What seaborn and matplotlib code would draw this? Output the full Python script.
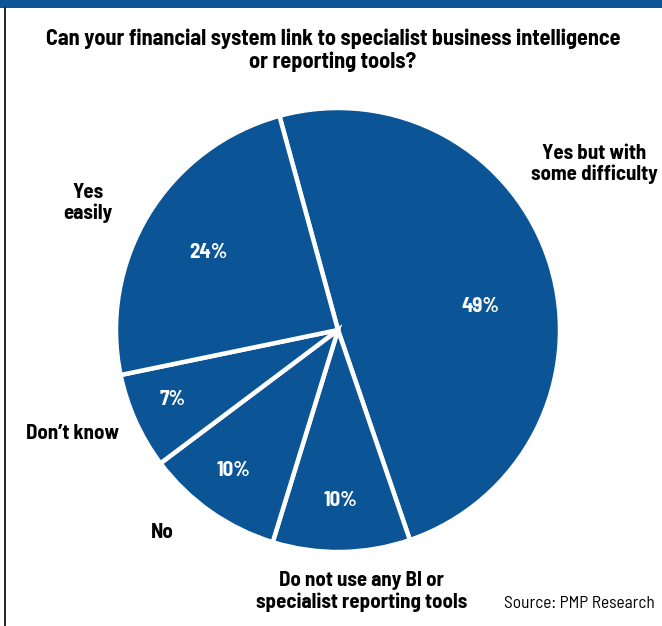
import matplotlib
matplotlib.use("Agg")
import matplotlib.pyplot as plt
from matplotlib.patches import Rectangle
from matplotlib.lines import Line2D
import seaborn as sns

# Survey answers, clockwise from the top
answers = ["Yes but with\nsome difficulty", "Do not use any BI or\nspecialist reporting tools",
           "No", "Don\u2019t know", "Yes\neasily"]
shares = [49, 10, 10, 7, 24]

# Where each answer label and percentage sits (pie-radius units)
answer_xy = [(1.155, 0.748), (0.108, -1.178), (-0.793, -0.91), (-1.198, -0.468), (-1.126, 0.572)]
pct_xy = [(0.640, 0.104), (0.009, -0.766), (-0.473, -0.631), (-0.743, -0.311), (-0.586, 0.351)]

sns.set_theme(style="white")
plt.rcParams["font.family"] = ["Barlow Semi Condensed", "Barlow Condensed", "DejaVu Sans"]

blue = "#0b5596"
W, H = 662, 626
fig = plt.figure(figsize=(W / 100, H / 100), dpi=100)

# Frame: blue band across the top and a thin rule on the left
fig.patches.append(Rectangle((0, 1 - 8 / H), 1, 8 / H, transform=fig.transFigure,
                             facecolor=blue, edgecolor="none"))
fig.lines.append(Line2D([4.5 / W, 4.5 / W], [0, 1 - 8 / H], transform=fig.transFigure,
                        color="black", lw=1.2))

cx, cy, r = 338, 330, 222
ax = fig.add_axes([(cx - r) / W, (H - cy - r) / H, 2 * r / W, 2 * r / H])

colors = sns.color_palette([blue] * len(shares))
ax.pie(shares, startangle=105.3, counterclock=False, colors=colors, radius=1,
       wedgeprops=dict(edgecolor="white", linewidth=3.2))
ax.set_xlim(-1, 1)
ax.set_ylim(-1, 1)
ax.set_aspect("equal")
ax.axis("off")

for (x, y), txt in zip(answer_xy, answers):
    ax.text(x, y, txt, ha="center", va="center", fontsize=15, fontweight="bold",
            color="black", linespacing=1.12, clip_on=False)
for (x, y), v in zip(pct_xy, shares):
    ax.text(x, y, f"{v}%", ha="center", va="center", fontsize=15, fontweight="bold",
            color="white")

fig.text(333 / W, 1 - 50 / H,
         "Can your financial system link to specialist business intelligence\nor reporting tools?",
         ha="center", va="center", fontsize=16, fontweight="bold", color="black",
         linespacing=1.15)
fig.text(655 / W, 1 - 604 / H, "Source: PMP Research", ha="right", va="center",
         fontsize=12.5, color="black")

fig.savefig("out.png", dpi=100)
